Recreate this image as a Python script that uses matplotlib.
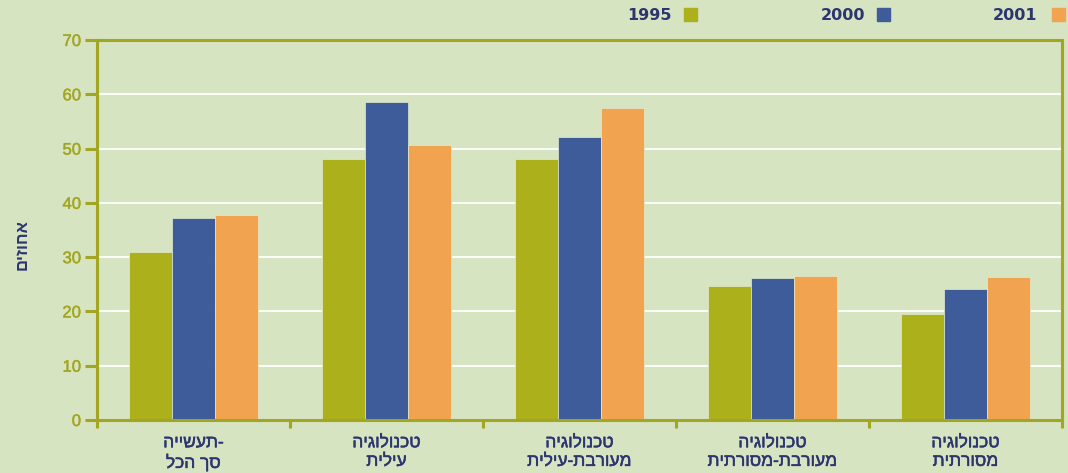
import matplotlib.pyplot as plt
import matplotlib.patheffects as pe
import numpy as np
from matplotlib.patches import Rectangle

# data (percent)
categories = [["תעשייה-", "סך הכל"],
              ["טכנולוגיה", "עילית"],
              ["טכנולוגיה", "מעורבת-עילית"],
              ["טכנולוגיה", "מעורבת-מסורתית"],
              ["טכנולוגיה", "מסורתית"]]
years = ["1995", "2000", "2001"]
v1995 = [31.0, 48.1, 48.1, 24.7, 19.5]
v2000 = [37.2, 58.6, 52.1, 26.2, 24.1]
v2001 = [37.8, 50.6, 57.5, 26.5, 26.3]
yticks = [0, 10, 20, 30, 40, 50, 60, 70]
ylabel = "אחוזים"

bg = "#d6e4c1"
olive = "#abb01b"
blue = "#3d5c99"
orange = "#f1a34f"
axis_col = "#a3a622"
navy = "#2d3570"


def rtl(s):
    # matplotlib has no bidi, so flip hebrew into visual order
    if s.endswith("-"):
        return s[:-1][::-1] + "-"
    return s[::-1]


fig = plt.figure(figsize=(10.68, 4.73), dpi=100, facecolor=bg)
ax = fig.add_axes([97 / 1068, 1 - 420 / 473, (1062 - 97) / 1068, (420 - 40) / 473])
ax.set_facecolor(bg)

x = np.arange(len(categories))
w = 0.2228
for i, (vals, col) in enumerate(zip([v1995, v2000, v2001], [olive, blue, orange])):
    ax.bar(x + (i - 1) * w, vals, w, color=col, edgecolor="#e3ebd0",
           linewidth=0.5, zorder=3)

ax.set_xlim(-0.5, len(categories) - 0.5)
ax.set_ylim(0, 70)
ax.set_yticks(yticks)
ax.set_yticklabels([str(t) for t in yticks])
for t in yticks[1:-1]:
    ax.axhline(t, color="white", lw=1.3, zorder=1)

for s in ax.spines.values():
    s.set_color(axis_col)
    s.set_linewidth(2.2)
    s.set_zorder(4)

ax.tick_params(axis="y", direction="out", length=8.5, width=2.2, color=axis_col,
               labelcolor=axis_col, labelsize=12, pad=3)
ax.set_xticks(np.arange(len(categories) + 1) - 0.5)
ax.set_xticklabels([])
ax.tick_params(axis="x", direction="out", length=6, width=2.2, color=axis_col)
ax.set_xticks(x, minor=True)
ax.set_xticklabels(["\n".join(rtl(p) for p in c) for c in categories], minor=True,
                   fontfamily="Liberation Sans", fontsize=12.5, color=navy,
                   linespacing=1.3)
ax.tick_params(axis="x", which="minor", length=0, pad=11)
# slightly heavier strokes, the original face is semi-bold
for lab in ax.get_xticklabels(minor=True):
    lab.set_path_effects([pe.withStroke(linewidth=0.35, foreground=navy)])
for lab in ax.get_yticklabels():
    lab.set_fontfamily("Liberation Sans")
    lab.set_path_effects([pe.withStroke(linewidth=0.3, foreground=axis_col)])

fig.text(22 / 1068, 1 - 245 / 473, rtl(ylabel), rotation=90, ha="center",
         va="center", color=navy, fontsize=12, fontweight="bold",
         fontfamily="Liberation Sans")

# legend drawn by hand: label then square to its right
leg = [(672, 684, olive), (865, 877, blue), (1037, 1052, orange)]
for yr, (tx, sx, col) in zip(years, leg):
    fig.text(tx / 1068, 1 - 15 / 473, yr, ha="right", va="center", color=navy,
             fontsize=11.5, fontweight="bold", fontfamily="DejaVu Sans")
    fig.patches.append(Rectangle((sx / 1068, 1 - 21 / 473), 13 / 1068, 13 / 473,
                                 transform=fig.transFigure, color=col))

fig.savefig("out.png", dpi=100, facecolor=bg)
